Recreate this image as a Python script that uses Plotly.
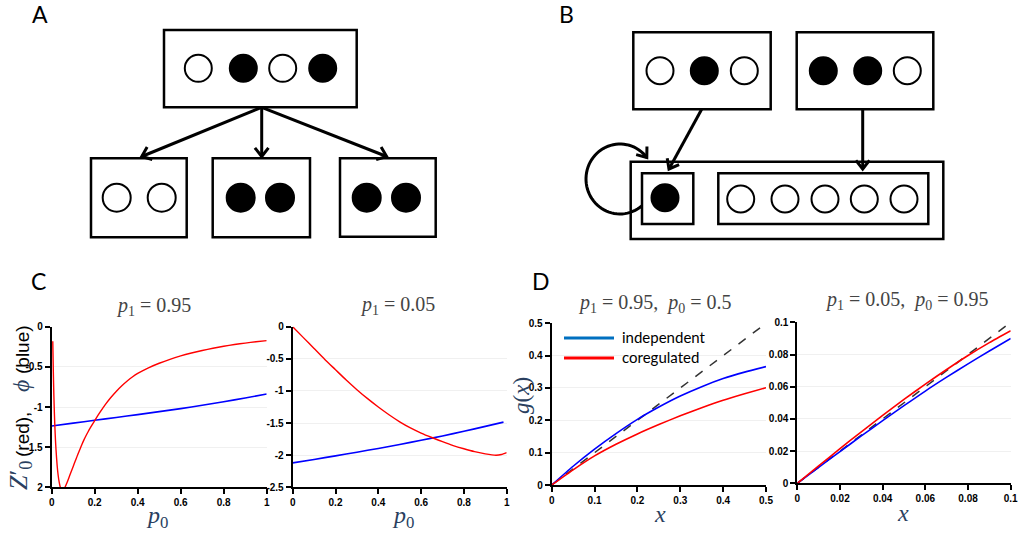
import math
import plotly.graph_objects as go

W, H = 1019, 540


def X(p):
    return p / W


def Y(p):
    return 1 - p / H


# ---------------- data ----------------
# Panel C, p1 = 0.95
c1_red_p0 = [0.005, 0.0075, 0.01, 0.0125, 0.015, 0.0175, 0.02, 0.025, 0.03, 0.035, 0.04, 0.045,
             0.05, 0.055, 0.06, 0.07, 0.08, 0.09, 0.10, 0.11, 0.12, 0.13, 0.14, 0.15, 0.16,
             0.17, 0.18, 0.19, 0.20, 0.225, 0.25, 0.275, 0.30, 0.325, 0.35, 0.375, 0.40,
             0.45, 0.50, 0.55, 0.60, 0.65, 0.70, 0.75, 0.80, 0.85, 0.90, 0.95, 1.00]
c1_red = [-0.18, -0.55, -0.85, -1.08, -1.26, -1.41, -1.53, -1.72, -1.85, -1.94, -2.00, -2.03,
          -2.04, -2.03, -2.01, -1.95, -1.88, -1.81, -1.74, -1.67, -1.60, -1.535, -1.47, -1.41, -1.355,
          -1.305, -1.258, -1.213, -1.17, -1.065, -0.968, -0.882, -0.806, -0.738, -0.68, -0.627, -0.582,
          -0.512, -0.455, -0.406, -0.364, -0.328, -0.296, -0.268, -0.243, -0.222, -0.204, -0.188, -0.174]
c1_blue_p0 = [0.0, 0.1, 0.2, 0.3, 0.4, 0.5, 0.6, 0.7, 0.8, 0.9, 1.0]
c1_blue = [-1.237, -1.201, -1.165, -1.130, -1.095, -1.058, -1.020, -0.979, -0.935, -0.888, -0.838]

# Panel C, p1 = 0.05
c2_red_p0 = [0.0, 0.05, 0.1, 0.15, 0.2, 0.25, 0.3, 0.35, 0.4, 0.45, 0.5, 0.55, 0.6, 0.65,
             0.7, 0.75, 0.8, 0.85, 0.9, 0.95, 0.975, 1.0]
c2_red = [0.0, -0.17, -0.34, -0.51, -0.67, -0.83, -0.98, -1.12, -1.25, -1.37, -1.48, -1.575,
          -1.655, -1.725, -1.79, -1.85, -1.90, -1.945, -1.98, -2.0, -1.99, -1.96]
c2_blue_p0 = [0.0, 0.1, 0.2, 0.3, 0.4, 0.5, 0.6, 0.7, 0.8, 0.9, 0.985]
c2_blue = [-2.12, -2.066, -2.011, -1.954, -1.895, -1.833, -1.768, -1.700, -1.628, -1.552, -1.485]

# Panel D, p1 = 0.95, p0 = 0.5
d1_x = [0.0, 0.05, 0.1, 0.15, 0.2, 0.25, 0.3, 0.35, 0.4, 0.45, 0.5]
d1_independent = [0.0, 0.058, 0.111, 0.159, 0.203, 0.241, 0.275, 0.304, 0.329, 0.349, 0.366]
d1_coregulated = [0.0, 0.047, 0.090, 0.126, 0.158, 0.187, 0.214, 0.239, 0.262, 0.282, 0.301]
d1_diag = [0.0, 0.5]

# Panel D, p1 = 0.05, p0 = 0.95
d2_x = [0.0, 0.01, 0.02, 0.03, 0.04, 0.05, 0.06, 0.07, 0.08, 0.09, 0.1]
d2_independent = [0.0, 0.0099, 0.0197, 0.0294, 0.0389, 0.0482, 0.0573, 0.0659, 0.0742, 0.0822, 0.0899]
d2_coregulated = [0.0, 0.0108, 0.0215, 0.0320, 0.0422, 0.0521, 0.0616, 0.0707, 0.0794, 0.0874, 0.0948]
d2_diag = [0.0, 0.1]

# ticks
c_x_vals = [0, 0.2, 0.4, 0.6, 0.8, 1.0]
c_x_text = ["0", "0.2", "0.4", "0.6", "0.8", "1"]
c1_y_vals = [0, -0.5, -1, -1.5, -2]
c1_y_text = ["0", "-0.5", "-1", "-1.5", "2"]
c2_y_vals = [0, -0.5, -1, -1.5, -2, -2.5]
c2_y_text = ["0", "-0.5", "-1", "-1.5", "-2", "-2.5"]
d1_vals = [0, 0.1, 0.2, 0.3, 0.4, 0.5]
d1_text = ["0", "0.1", "0.2", "0.3", "0.4", "0.5"]
d2_vals = [0, 0.02, 0.04, 0.06, 0.08, 0.1]
d2_text = ["0", "0.02", "0.04", "0.06", "0.08", "0.1"]

RED = "#FF0000"
BLUE = "#0000FF"
SPL = dict(shape="spline", smoothing=0.6)

fig = go.Figure()

# C1
fig.add_trace(go.Scatter(x=c1_blue_p0, y=c1_blue, mode="lines", line=dict(color=BLUE, width=1.6, **SPL),
                         xaxis="x", yaxis="y", showlegend=False))
fig.add_trace(go.Scatter(x=c1_red_p0, y=c1_red, mode="lines", line=dict(color=RED, width=1.4, **SPL),
                         xaxis="x", yaxis="y", showlegend=False))
# C2
fig.add_trace(go.Scatter(x=c2_blue_p0, y=c2_blue, mode="lines", line=dict(color=BLUE, width=1.6, **SPL),
                         xaxis="x2", yaxis="y2", showlegend=False))
fig.add_trace(go.Scatter(x=c2_red_p0, y=c2_red, mode="lines", line=dict(color=RED, width=1.4, **SPL),
                         xaxis="x2", yaxis="y2", showlegend=False))
# D1
fig.add_trace(go.Scatter(x=d1_diag, y=d1_diag, mode="lines", line=dict(color="#333333", width=1.5, dash="dash"),
                         xaxis="x3", yaxis="y3", showlegend=False))
fig.add_trace(go.Scatter(x=d1_x, y=d1_independent, mode="lines", line=dict(color=BLUE, width=1.6, **SPL),
                         xaxis="x3", yaxis="y3", showlegend=False))
fig.add_trace(go.Scatter(x=d1_x, y=d1_coregulated, mode="lines", line=dict(color=RED, width=1.6, **SPL),
                         xaxis="x3", yaxis="y3", showlegend=False))
# D2
fig.add_trace(go.Scatter(x=d2_diag, y=d2_diag, mode="lines", line=dict(color="#333333", width=1.5, dash="dash"),
                         xaxis="x4", yaxis="y4", showlegend=False))
fig.add_trace(go.Scatter(x=d2_x, y=d2_independent, mode="lines", line=dict(color=BLUE, width=1.6, **SPL),
                         xaxis="x4", yaxis="y4", showlegend=False))
fig.add_trace(go.Scatter(x=d2_x, y=d2_coregulated, mode="lines", line=dict(color=RED, width=1.6, **SPL),
                         xaxis="x4", yaxis="y4", showlegend=False))

TICKFONT = dict(family="Liberation Sans, Arial", size=10, color="black", weight="bold")


def xax(dom_px, anchor, rng, vals, text):
    return dict(domain=[X(dom_px[0]), X(dom_px[1])], anchor=anchor, range=rng, automargin=False,
                showline=True, linecolor="black", linewidth=2, ticks="outside", ticklen=5,
                tickwidth=2, tickcolor="black", zeroline=False, showgrid=False,
                tickvals=vals, ticktext=text, tickfont=TICKFONT, fixedrange=True)


def yax(dom_px, anchor, rng, vals, text):
    return dict(domain=[Y(dom_px[1]), Y(dom_px[0])], anchor=anchor, range=rng, automargin=False,
                showline=True, linecolor="black", linewidth=2, ticks="outside", ticklen=5,
                tickwidth=2, tickcolor="black", zeroline=False, showgrid=True,
                gridcolor="#f0f0f0", gridwidth=1,
                tickvals=vals, ticktext=text, tickfont=TICKFONT, fixedrange=True)


layout = dict(
    width=W, height=H, margin=dict(l=0, r=0, t=0, b=0, pad=0, autoexpand=False),
    paper_bgcolor="white", plot_bgcolor="white", showlegend=False,
    xaxis=xax((51.7, 266.7), "y", [0, 1], c_x_vals, c_x_text),
    yaxis=yax((326.7, 487.3), "x", [-2, 0], c1_y_vals, c1_y_text),
    xaxis2=xax((292.7, 506.7), "y2", [0, 1], c_x_vals, c_x_text),
    yaxis2=yax((326.7, 487.3), "x2", [-2.5, 0], c2_y_vals, c2_y_text),
    xaxis3=xax((551.7, 766.0), "y3", [0, 0.5], d1_vals, d1_text),
    yaxis3=yax((323.3, 485.0), "x3", [0, 0.5], d1_vals, d1_text),
    xaxis4=xax((797.3, 1010.7), "y4", [0, 0.1], d2_vals, d2_text),
    yaxis4=yax((322.3, 483.3), "x4", [0, 0.1], d2_vals, d2_text),
)
fig.update_layout(**layout)

annotations = []
shapes = []

SERIF = "Liberation Serif, DejaVu Serif, serif"
SANS = "Lato, Open Sans, sans-serif"
TITLE_COLOR = "#444444"
MATH_COLOR = "#2a3f5f"


def ann(px, py, text, size, family, color="black", angle=0, xanchor="center", yanchor="middle"):
    annotations.append(dict(x=X(px), y=Y(py), xref="paper", yref="paper", text=text,
                            showarrow=False, textangle=angle, xanchor=xanchor, yanchor=yanchor,
                            font=dict(size=size, family=family, color=color)))


# panel letters
ann(40, 14, "A", 23, SANS)
ann(566, 14, "B", 23, SANS)
ann(38, 281, "C", 23, SANS)
ann(541, 281, "D", 23, SANS)

# plot titles
ann(153, 306, "<i>p</i><sub>1</sub> = 0.95", 20, SERIF, TITLE_COLOR)
ann(397, 305, "<i>p</i><sub>1</sub> = 0.05", 20, SERIF, TITLE_COLOR)
ann(655, 303, "<i>p</i><sub>1</sub> = 0.95,  <i>p</i><sub>0</sub> = 0.5", 20, SERIF, TITLE_COLOR)
ann(907, 300, "<i>p</i><sub>1</sub> = 0.05,  <i>p</i><sub>0</sub> = 0.95", 20, SERIF, TITLE_COLOR)

# axis titles
ann(157, 517, "<i>p</i><sub>0</sub>", 24, SERIF, MATH_COLOR)
ann(403, 517, "<i>p</i><sub>0</sub>", 24, SERIF, MATH_COLOR)
ann(660, 514, "<i>x</i>", 24, SERIF, MATH_COLOR)
ann(903, 513, "<i>x</i>", 24, SERIF, MATH_COLOR)
ann(521, 396, "<i>g</i>(<i>x</i>)", 23, SERIF, MATH_COLOR, angle=-90)
# C y-axis title pieces (rotated, reading bottom to top)
ann(20, 476, "<i>Z</i>′<sub>0</sub>", 26, SERIF, MATH_COLOR, angle=-90)
ann(22, 435, "(red),", 19, "Liberation Sans", "black", angle=-90)
ann(21, 386, "<i>ϕ</i>", 24, SERIF, MATH_COLOR, angle=-90)
ann(22, 350, "(blue)", 19, "Liberation Sans", "black", angle=-90)

# legend for D1
shapes.append(dict(type="line", xref="paper", yref="paper", x0=X(564), x1=X(614), y0=Y(338), y1=Y(338),
                   line=dict(color="#0070C0", width=3)))
shapes.append(dict(type="line", xref="paper", yref="paper", x0=X(564), x1=X(614), y0=Y(358), y1=Y(358),
                   line=dict(color="#FF0000", width=3)))
ann(620, 337, "independent", 15, SANS, "black", xanchor="left")
ann(620, 357, "coregulated", 15, SANS, "black", xanchor="left")


# ---------------- diagrams ----------------
def rect(x0, y0, x1, y1, w=2.5):
    shapes.append(dict(type="rect", xref="paper", yref="paper", x0=X(x0), x1=X(x1), y0=Y(y1), y1=Y(y0),
                       line=dict(color="black", width=w), fillcolor="rgba(0,0,0,0)"))


def circ(cx, cy, filled, r=13.5):
    shapes.append(dict(type="circle", xref="paper", yref="paper", x0=X(cx - r), x1=X(cx + r),
                       y0=Y(cy + r), y1=Y(cy - r), line=dict(color="black", width=2),
                       fillcolor="black" if filled else "white"))


def head(tx, ty, ux, uy, L=11, ang=38):
    a = math.radians(ang)
    pts = []
    for s in (1, -1):
        ca, sa = math.cos(s * a), math.sin(s * a)
        bx = -(ux * ca - uy * sa)
        by = -(ux * sa + uy * ca)
        pts.append((tx + L * bx, ty + L * by))
    path = "M {} {} L {} {} L {} {}".format(X(pts[0][0]), Y(pts[0][1]), X(tx), Y(ty), X(pts[1][0]), Y(pts[1][1]))
    shapes.append(dict(type="path", xref="paper", yref="paper", path=path,
                       line=dict(color="black", width=3)))


def arrow(x0, y0, x1, y1):
    shapes.append(dict(type="line", xref="paper", yref="paper", x0=X(x0), y0=Y(y0), x1=X(x1), y1=Y(y1),
                       line=dict(color="black", width=3)))
    d = math.hypot(x1 - x0, y1 - y0)
    head(x1, y1, (x1 - x0) / d, (y1 - y0) / d)


# A
rect(164, 30, 356.7, 107.3)
for cx, f in [(198.3, False), (243.3, True), (282.7, False), (322.7, True)]:
    circ(cx, 68.3, f)
rect(91, 158.3, 186.7, 237.3)
rect(212.7, 158.3, 310, 237.3)
rect(340, 158.3, 435.7, 236.7)
for cx, f in [(116.7, False), (161.7, False), (240.7, True), (280, True), (366.7, True), (406, True)]:
    circ(cx, 197.7, f, r=14)
arrow(261.7, 107.3, 141.7, 156.5)
arrow(261.7, 107.3, 261.7, 156.5)
arrow(261.7, 107.3, 386.7, 156.5)

# B
rect(633.3, 32.3, 770.7, 109.3)
rect(796.7, 32.3, 933.3, 109.3)
for cx, f in [(660, False), (704.3, True), (744.3, False), (823.3, True), (867.7, True), (907.3, False)]:
    circ(cx, 70.7, f)
rect(630.7, 161.7, 943.3, 239)
rect(642, 173.3, 693.3, 224)
rect(718.3, 173.3, 928.3, 224)
circ(665, 197.7, True)
for cx in [740.7, 785, 825, 864.3, 904]:
    circ(cx, 199, False)
arrow(701.7, 109.3, 669, 169)
arrow(862.7, 109.3, 862.7, 169)

# loop arrow
cxl, cyl, rx, ry = 620, 179, 34, 35
th = [math.radians(50 + i * (322 - 50) / 60) for i in range(61)]
pts = [(cxl + rx * math.cos(t), cyl + ry * math.sin(t)) for t in th]
path = "M " + " L ".join("{} {}".format(X(px), Y(py)) for px, py in pts)
shapes.append(dict(type="path", xref="paper", yref="paper", path=path, line=dict(color="black", width=3)))
tend = th[-1]
ux, uy = -rx * math.sin(tend), ry * math.cos(tend)
n = math.hypot(ux, uy)
head(pts[-1][0], pts[-1][1], ux / n, uy / n)

fig.update_layout(annotations=annotations, shapes=shapes)
fig.write_html("out.html", config=dict(displayModeBar=False),
               post_script="document.body.style.margin='0';document.body.style.padding='0';")
